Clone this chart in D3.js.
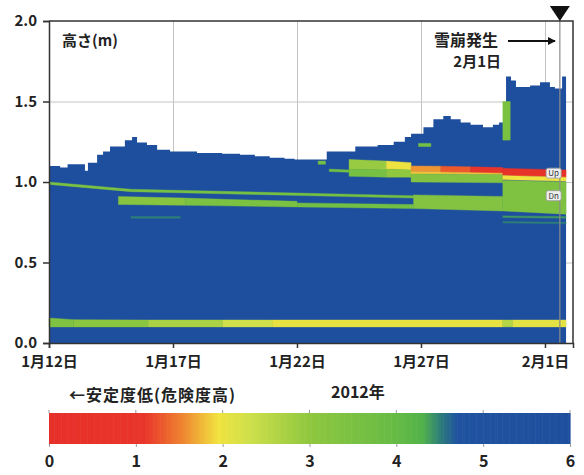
<!DOCTYPE html>
<html>
<head>
<meta charset="utf-8">
<script src="https://cdn.jsdelivr.net/npm/d3@7"></script>
<style>
  body { margin: 0; background: #fff; }
  text { font-family: "Noto Sans CJK JP", "Noto Sans", sans-serif; fill: #222; }
</style>
</head>
<body>
<svg id="chart" width="584" height="475"></svg>
<script>
// tick labels
const dateTicks = ["2012-01-12", "2012-01-17", "2012-01-22", "2012-01-27", "2012-02-01"];
const heightTicks = [0, 0.5, 1.0, 1.5, 2.0];
const stabilityTicks = [0, 1, 2, 3, 4, 5, 6];

// snow depth in m, changes at [days after Jan 12, depth]
const snowDepth = [
  [0, 1.10], [0.45, 1.09], [0.75, 1.11], [1.45, 1.07], [1.57, 1.12], [1.94, 1.17],
  [2.18, 1.19], [2.46, 1.22], [3.06, 1.26], [3.35, 1.28], [3.55, 1.245], [3.95, 1.23],
  [4.36, 1.20], [4.88, 1.19], [5.97, 1.18], [6.98, 1.175], [7.7, 1.17], [8.3, 1.16],
  [8.9, 1.15], [9.5, 1.145], [9.9, 1.14], [11.2, 1.19], [12.35, 1.22], [13.25, 1.23],
  [13.9, 1.25], [14.35, 1.28], [14.6, 1.30], [15.1, 1.34], [15.5, 1.39], [15.9, 1.41],
  [16.2, 1.39], [16.6, 1.37], [17.0, 1.355], [17.5, 1.34], [17.9, 1.355], [18.15, 1.37],
  [18.43, 1.655], [18.63, 1.63], [18.83, 1.59], [19.4, 1.60], [19.8, 1.62], [20.2, 1.59],
  [20.4, 1.58], [20.69, 1.655], [20.85, 1.655]
];
const baseStability = 6;

// layer pieces: [dayStart, dayEnd, topStart, bottomStart, topEnd, bottomEnd, stability]
const groundLayer = [
  [0, 1, 0.155, 0.10, 0.145, 0.10, 3.4],
  [1, 4, 0.145, 0.10, 0.143, 0.10, 3.1],
  [4, 7, 0.143, 0.10, 0.143, 0.10, 2.7],
  [7, 9, 0.143, 0.10, 0.143, 0.10, 2.3],
  [9, 18.3, 0.143, 0.10, 0.143, 0.10, 2.05],
  [18.3, 18.7, 0.143, 0.10, 0.143, 0.10, 2.6],
  [18.7, 20.85, 0.143, 0.10, 0.143, 0.10, 2.1]
];
const lowerLayers = [
  [0, 3.3, 1.0, 0.985, 0.955, 0.94, 3.5],
  [3.3, 14.7, 0.955, 0.94, 0.915, 0.90, 3.6],
  [2.8, 5.5, 0.91, 0.86, 0.90, 0.855, 3.2],
  [5.5, 10, 0.90, 0.855, 0.88, 0.845, 3.5],
  [10, 14.7, 0.87, 0.845, 0.86, 0.835, 3.7],
  [3.3, 5.3, 0.785, 0.775, 0.785, 0.775, 4.5],
  [14.7, 18.3, 0.92, 0.835, 0.91, 0.82, 3.3],
  [18.3, 20.85, 1.01, 0.82, 1.0, 0.80, 3.4],
  [18.3, 20.85, 0.79, 0.78, 0.785, 0.775, 4.4],
  [18.3, 20.85, 0.755, 0.745, 0.75, 0.74, 4.5]
];
const upperLayer = [
  [11.3, 12.1, 1.08, 1.065, 1.075, 1.06, 3.7],
  [12.1, 13.6, 1.14, 1.08, 1.13, 1.075, 2.9],
  [12.1, 13.6, 1.08, 1.035, 1.075, 1.03, 3.6],
  [13.6, 14.6, 1.13, 1.08, 1.12, 1.075, 2.0],
  [13.6, 14.6, 1.08, 1.03, 1.075, 1.03, 3.0],
  [14.6, 15.8, 1.10, 1.065, 1.098, 1.062, 1.6],
  [15.8, 17.0, 1.098, 1.062, 1.094, 1.058, 1.3],
  [17.0, 18.3, 1.094, 1.058, 1.09, 1.055, 1.1],
  [14.6, 18.3, 1.065, 1.05, 1.055, 1.045, 1.8],
  [14.6, 18.3, 1.05, 1.0, 1.045, 0.995, 3.3],
  [18.3, 20.85, 1.085, 1.04, 1.075, 1.03, 0.5],
  [18.3, 20.85, 1.04, 1.015, 1.03, 1.005, 1.95]
];
const spots = [
  [10.85, 11.15, 1.13, 1.11, 1.13, 1.11, 3.6],
  [14.9, 15.4, 1.24, 1.22, 1.24, 1.22, 3.6],
  [18.3, 18.6, 1.50, 1.26, 1.50, 1.26, 3.5]
];

const avalancheDay = 20.6;
const upLabel = [20.35, 1.055];
const dnLabel = [20.35, 0.915];

// stability colour stops
const stabilityStops = [0, 1.1, 1.5, 1.95, 2.3, 3.0, 4.0, 4.3, 4.5, 4.7, 6];
const stabilityColors = ["#e7302a", "#e8352b", "#ee7d2f", "#f1e33f", "#cfe04a", "#8fc73f",
                         "#66bb45", "#52b34a", "#2e7f78", "#1f53a0", "#1e4f9e"];

const svg = d3.select("#chart");
const start = new Date(2012, 0, 12);
const toDate = (d) => new Date(start.getTime() + d * 864e5);

let x = d3.scaleTime().domain([start, toDate(21.13)]).range([49, 573]);
let y = d3.scaleLinear().domain([0, 2]).range([343, 21]);
let color = d3.scaleLinear().domain(stabilityStops).range(stabilityColors);

// grid
let grid = svg.append("g").attr("stroke", "#c4c4c4").attr("stroke-width", 1);
dateTicks.slice(1).forEach((t) => {
  let xp = Math.round(x(new Date(t + "T00:00"))) + 0.5;
  grid.append("line").attr("x1", xp).attr("x2", xp).attr("y1", 21).attr("y2", 343);
});
heightTicks.slice(1, 4).forEach((h) => {
  grid.append("line").attr("x1", 49).attr("x2", 573).attr("y1", y(h) + 0.5).attr("y2", y(h) + 0.5);
});

// snow body
let area = d3.area()
  .x((d) => x(toDate(d[0])))
  .y0(y(0))
  .y1((d) => y(d[1]))
  .curve(d3.curveStepAfter);
svg.append("path").datum(snowDepth).attr("d", area).attr("fill", color(baseStability));

// layers
let line = d3.line();
[groundLayer, lowerLayers, upperLayer, spots].forEach((set) => {
  set.forEach((p) => {
    let pts = [
      [x(toDate(p[0])), y(p[2])], [x(toDate(p[1])), y(p[4])],
      [x(toDate(p[1])), y(p[5])], [x(toDate(p[0])), y(p[3])]
    ];
    svg.append("path").attr("d", line(pts) + "Z")
      .attr("fill", color(p[6])).attr("stroke", color(p[6])).attr("stroke-width", 0.4);
  });
});

// avalanche line + marker
let ax = x(toDate(avalancheDay));
svg.append("line").attr("x1", ax).attr("x2", ax).attr("y1", 18).attr("y2", 343)
  .attr("stroke", "#8c8c8c").attr("stroke-width", 1.2);
svg.append("path").attr("d", `M${ax - 10},6L${ax + 10},6L${ax},21Z`).attr("fill", "#111");

// Up / Dn tags
[[upLabel, "Up"], [dnLabel, "Dn"]].forEach(([pos, txt]) => {
  let cx = x(toDate(pos[0])), cy = y(pos[1]);
  svg.append("rect").attr("x", cx - 7.5).attr("y", cy - 5).attr("width", 15).attr("height", 10)
    .attr("rx", 2).attr("fill", "#eeeeee").attr("stroke", "#9a9a9a").attr("stroke-width", 0.8);
  svg.append("text").attr("x", cx).attr("y", cy + 3).attr("text-anchor", "middle")
    .attr("font-size", 8).style("fill", "#333").text(txt);
});

// frame
svg.append("path").attr("d", "M49,21H573V343").attr("fill", "none")
  .attr("stroke", "#333").attr("stroke-width", 1.5);

// axes
let xAxis = d3.axisBottom(x)
  .tickValues(dateTicks.map((t) => new Date(t + "T00:00")))
  .tickSize(5).tickPadding(8)
  .tickFormat((d) => `${d.getMonth() + 1}月${d.getDate()}日`);
let gx = svg.append("g").attr("transform", "translate(0,343)").call(xAxis);
let yAxis = d3.axisLeft(y).tickValues(heightTicks).tickSize(6).tickPadding(6).tickFormat(d3.format(".1f"));
let gy = svg.append("g").attr("transform", "translate(49,0)").call(yAxis);
[gx, gy].forEach((g) => {
  g.select(".domain").attr("stroke", "#333").attr("stroke-width", 1.5);
  g.selectAll(".tick line").attr("stroke", "#333").attr("stroke-width", 1.5);
  g.selectAll("text").attr("font-family", null).style("fill", "#222").attr("font-weight", "bold");
});
gx.selectAll("text").attr("font-size", 15);
gy.selectAll("text").attr("font-size", 15);

// annotations
svg.append("text").attr("x", 62).attr("y", 46).attr("font-size", 15).attr("font-weight", "bold").text("高さ(m)");
svg.append("text").attr("x", 434).attr("y", 46).attr("font-size", 16).attr("font-weight", "bold").text("雪崩発生");
svg.append("text").attr("x", 501).attr("y", 67).attr("text-anchor", "end").attr("font-size", 15).attr("font-weight", "bold").text("2月1日");
svg.append("defs").append("marker").attr("id", "arrow").attr("viewBox", "0 0 10 10")
  .attr("refX", 9).attr("refY", 5).attr("markerWidth", 4).attr("markerHeight", 4).attr("orient", "auto")
  .append("path").attr("d", "M0,0L10,5L0,10Z").attr("fill", "#111");
svg.append("line").attr("x1", 508).attr("x2", 555).attr("y1", 41).attr("y2", 41)
  .attr("stroke", "#111").attr("stroke-width", 2).attr("marker-end", "url(#arrow)");

svg.append("text").attr("x", 69).attr("y", 401).attr("font-size", 16).attr("font-weight", "bold")
  .attr("letter-spacing", 1).text("←安定度低(危険度高)");
svg.append("text").attr("x", 331).attr("y", 398).attr("font-size", 16).attr("font-weight", "bold").text("2012年");

// colour bar
let cb = d3.scaleLinear().domain([0, 6]).range([49, 570]);
let steps = d3.range(0, 6, 0.02);
svg.append("g").selectAll("rect").data(steps).join("rect")
  .attr("x", (d) => cb(d)).attr("width", cb(0.02) - cb(0) + 0.6)
  .attr("y", 413).attr("height", 31).attr("fill", (d) => color(d + 0.01));
let cbAxis = d3.axisBottom(cb).tickValues(stabilityTicks).tickSize(3).tickPadding(9).tickFormat(d3.format("d"));
let gc = svg.append("g").attr("transform", "translate(0,444)").call(cbAxis);
gc.select(".domain").remove();
gc.selectAll(".tick line").attr("stroke", "#999");
gc.selectAll("text").attr("font-family", null).attr("font-size", 16).attr("font-weight", "bold").style("fill", "#222");
svg.append("g").selectAll("line").data(stabilityTicks).join("line")
  .attr("x1", (d) => cb(d)).attr("x2", (d) => cb(d)).attr("y1", 410).attr("y2", 413).attr("stroke", "#999");
</script>
</body>
</html>
